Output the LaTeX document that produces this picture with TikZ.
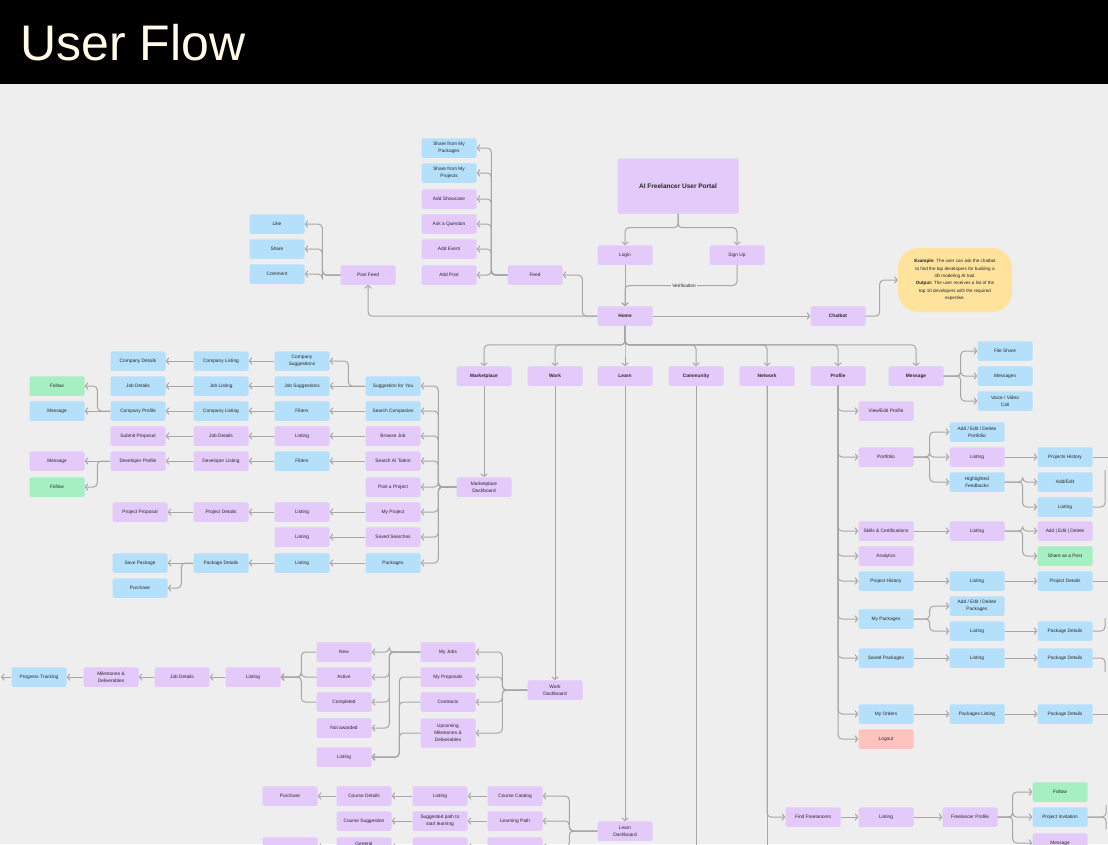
\documentclass[tikz,border=0pt]{standalone}
\usepackage{fontspec}
\setmainfont{Liberation Sans}
\usetikzlibrary{arrows.meta}
\usetikzlibrary{calc}
\definecolor{fondo}{HTML}{EEEEEE}
\definecolor{lila}{HTML}{E4C9FB}
\definecolor{celeste}{HTML}{B5E0FB}
\definecolor{verde}{HTML}{A5EFC2}
\definecolor{rosa}{HTML}{FFC3BF}
\definecolor{amarillo}{HTML}{FFE29C}
\definecolor{gris}{HTML}{A6A6A6}
\definecolor{crema}{HTML}{FFFBE8}
\begin{document}
\begin{tikzpicture}[x=1pt,y=-1pt,
    caja/.style={rectangle, rounded corners=1.5pt, minimum width=55pt, minimum height=19.5pt, inner sep=1pt, align=center, font=\fontsize{4.8}{7.2}\selectfont, text=black!85},
    lil/.style={caja, fill=lila},
    cel/.style={caja, fill=celeste},
    ver/.style={caja, fill=verde},
    ros/.style={caja, fill=rosa},
    neg/.style={font=\bfseries\fontsize{4.8}{7.2}\selectfont},
    flecha/.style={draw=gris, line width=1pt, rounded corners=4pt, -{Straight Barb[length=2.6pt,width=6.5pt]}},
    trazo/.style={draw=gris, line width=1pt, rounded corners=4pt},
]
    \clip (0,0) rectangle (1108,844);
    % Fondo y titulo
    \fill[black] (0,0) rectangle (1108,84);
    \fill[fondo] (0,84) rectangle (1108,844);
    \node[anchor=west, text=crema, font=\fontsize{50}{50}\selectfont] (titulo) at (17,43) {User Flow};

    % Portal
    \node[lil, minimum width=121pt, minimum height=55pt, font=\bfseries\fontsize{6.5}{8}\selectfont] (portal) at (678,186) {AI Freelancer User Portal};
    \node[lil] (login) at (625,255) {Login};
    \node[lil] (signup) at (737,255) {Sign Up};
    \node[lil, neg] (home) at (625,316) {Home};
    \node[lil, neg] (chatbot) at (838,316) {Chatbot};
    \node[fill=amarillo, rounded corners=20pt, minimum width=114pt, minimum height=64pt, align=center, font=\fontsize{4.6}{7.4}\selectfont, text=black!85, inner sep=2pt] (nota) at (955,280)
        {\textbf{Example:} The user can ask the chatbot\\ to find the top developers for building a\\ 3D modeling AI tool.\\ \textbf{Output:} The user receives a list of the\\ top 10 developers with the required\\ expertise.};
    \draw[flecha] (portal.south) -- ++(0,14) -| (login.north);
    \draw[flecha] (portal.south) -- ++(0,14) -| (signup.north);
    \coordinate (verif) at ($(login.south)!0.5!(home.north)$);
    \draw[flecha] (login.south) -- (home.north);
    \draw[flecha] (signup.south) |- (verif) -- (home.north);
    \node[fill=fondo, inner sep=1pt, font=\fontsize{4.8}{7}\selectfont, text=black!85] (lbver) at (684,285.5) {Verification};
    \draw[flecha] (home.east) -- (chatbot.west);
    \draw[flecha] (chatbot.east) -- ++(14,0) |- (nota.west);

    % Feed
    \node[lil] (feed) at (535,275) {Feed};
    \node[cel] (shpk) at (449,148) {Share from My\\Packages};
    \node[cel] (shpr) at (449,173) {Share from My\\Projects};
    \node[lil] (showc) at (449,199) {Add Showcase};
    \node[lil] (askq) at (449,224) {Ask a Question};
    \node[lil] (event) at (449,249) {Add Event};
    \node[lil] (addpost) at (449,275) {Add Post};
    \draw[flecha] (home.west) -- ++(-15,0) |- (feed.east);
    \foreach \n in {shpk,shpr,showc,askq,event,addpost}
        \draw[flecha] (feed.west) -- ++(-16,0) |- (\n.east);

    % Post Feed
    \node[lil] (postfeed) at (368,275) {Post Feed};
    \node[cel] (like) at (277,224) {Like};
    \node[cel] (share) at (277,249) {Share};
    \node[cel] (comment) at (277,274) {Comment};
    \draw[flecha] (home.west) -| (postfeed.south);
    \foreach \n in {like,share,comment}
        \draw[flecha] (postfeed.west) -- ++(-18,0) |- (\n.east);

    % Menu principal
    \foreach \n/\x/\t in {market/484/Marketplace, work/555/Work, learn/625/Learn, comm/696/Community, network/767/Network, profile/838/Profile, message/916/Message}{
        \node[lil, neg] (\n) at (\x,376) {\t};
        \draw[flecha] (home.south) -- ++(0,19) -| (\n.north);
    }

    % Message
    \node[cel] (fileshare) at (1005,351) {File Share};
    \node[cel] (messages) at (1005,376) {Messages};
    \node[cel] (voice) at (1005,401) {Voice / Video\\Call};
    \foreach \n in {fileshare,messages,voice}
        \draw[flecha] (message.east) -- ++(17,0) |- (\n.west);

    % Marketplace
    \node[lil] (mdash) at (484,487) {Marketplace\\Dashboard};
    \draw[flecha] (market) -- (mdash);
    \node[cel] (sfy) at (393,386) {Suggestion for You};
    \node[cel] (scomp) at (393,411) {Search Companies};
    \node[lil] (bjob) at (393,436) {Browse Job};
    \node[lil] (stal) at (393,461) {Search AI Talent};
    \node[lil] (pproj) at (393,487) {Post a Project};
    \node[lil] (myproj) at (393,512) {My Project};
    \node[lil] (ssearch) at (393,537) {Saved Searches};
    \node[cel] (pkgs) at (393,563) {Packages};
    \foreach \n in {sfy,scomp,bjob,stal,pproj,myproj,ssearch,pkgs}
        \draw[flecha] (mdash.west) -- ++(-18,0) |- (\n.east);

    \node[cel] (csug) at (302,361) {Company\\Suggestions};
    \node[cel] (jsug) at (302,386) {Job Suggestions};
    \node[cel] (filt1) at (302,411) {Filters};
    \node[lil] (blist) at (302,436) {Listing};
    \node[cel] (filt2) at (302,461) {Filters};
    \node[lil] (mplist) at (302,512) {Listing};
    \node[lil] (sslist) at (302,537) {Listing};
    \node[cel] (pklist) at (302,563) {Listing};

    \node[cel] (clist1) at (221,361) {Company Listing};
    \node[cel] (jlist) at (221,386) {Job Listing};
    \node[cel] (clist2) at (221,411) {Company Listing};
    \node[lil] (jdet1) at (221,436) {Job Details};
    \node[lil] (dlist) at (221,461) {Developer Listing};
    \node[lil] (pdet) at (221,512) {Project Details};
    \node[cel] (pkdet) at (221,563) {Package Details};

    \node[cel] (cdet) at (138,361) {Company Details};
    \node[cel] (jdet2) at (138,386) {Job Details};
    \node[cel] (cprof) at (138,411) {Company Profile};
    \node[lil] (subprop) at (138,436) {Submit Proposal};
    \node[lil] (dprof) at (138,461) {Developer Profile};
    \node[lil] (pprop) at (140,512) {Project Proposal};
    \node[cel] (savepk) at (140,563) {Save Package};
    \node[cel] (purch) at (140,588) {Purchase};

    \node[ver] (fol1) at (57,386) {Follow};
    \node[cel] (msg1) at (57,411) {Message};
    \node[lil] (msg2) at (57,461) {Message};
    \node[ver] (fol2) at (57,487) {Follow};

    \draw[flecha] (sfy.west) -- ++(-17,0) |- (csug.east);
    \draw[flecha] (sfy.west) -- (jsug.east);
    \foreach \a/\b in {scomp/filt1, bjob/blist, stal/filt2, myproj/mplist, ssearch/sslist, pkgs/pklist,
        csug/clist1, jsug/jlist, filt1/clist2, blist/jdet1, filt2/dlist, mplist/pdet, pklist/pkdet,
        clist1/cdet, jlist/jdet2, clist2/cprof, jdet1/subprop, dlist/dprof, pdet/pprop}
        \draw[flecha] (\a.west) -- (\b.east);
    \draw[flecha] (cprof.west) -- ++(-13,0) |- (fol1.east);
    \draw[flecha] (cprof.west) -- (msg1.east);
    \draw[flecha] (dprof.west) -- (msg2.east);
    \draw[flecha] (dprof.west) -- ++(-13,0) |- (fol2.east);
    \draw[flecha] (pkdet.west) -- (savepk.east);
    \draw[flecha] (pkdet.west) -- ++(-12,0) |- (purch.east);

    % Work
    \node[lil] (wdash) at (555,690) {Work\\Dashboard};
    \draw[flecha] (work) -- (wdash);
    \node[lil] (myjobs) at (448,652) {My Jobs};
    \node[lil] (myprops) at (448,677) {My Proposals};
    \node[lil] (contracts) at (448,702) {Contracts};
    \node[lil, minimum height=29pt] (upcoming) at (448,733) {Upcoming\\Milestones \&\\Deliverables};
    \foreach \n in {myjobs,myprops,contracts,upcoming}
        \draw[flecha] (wdash.west) -- ++(-25,0) |- (\n.east);
    \node[lil] (new) at (344,652) {New};
    \node[lil] (active) at (344,677) {Active};
    \node[lil] (completed) at (344,702) {Completed};
    \node[lil] (notaw) at (344,728) {Not awarded};
    \node[lil] (wlist) at (344,757) {Listing};
    \foreach \n in {new,active,completed,notaw}
        \draw[flecha] (myjobs.west) -- ++(-31,0) |- (\n.east);
    \foreach \n in {myprops,contracts,upcoming}
        \draw[flecha] (\n.west) -- ++(-21,0) |- (wlist.east);
    \node[lil] (wlist2) at (253,677) {Listing};
    \node[lil] (wjdet) at (182,677) {Job Details};
    \node[lil] (miles) at (111,677) {Milestones \&\\Deliverables};
    \node[cel] (progress) at (39,677) {Progress Tracking};
    \coordinate (progfin) at (1,677);
    \foreach \n in {new,active,completed}
        \draw[flecha] (\n.west) -- ++(-15,0) |- (wlist2.east);
    \draw[flecha] (wlist2) -- (wjdet);
    \draw[flecha] (wjdet) -- (miles);
    \draw[flecha] (miles) -- (progress);
    \draw[flecha] (progress.west) -- (progfin);

    % Learn
    \node[lil] (ldash) at (625,831) {Learn\\Dashboard};
    \draw[flecha] (learn) -- (ldash);
    \node[lil] (ccat) at (515,796) {Course Catalog};
    \node[lil] (lpath) at (515,821) {Learning Path};
    \node[lil] (lrow3a) at (515,847) {};
    \node[lil] (llist) at (440,796) {Listing};
    \node[lil] (spath) at (440,821) {Suggested path to\\start learning};
    \node[lil] (lrow3b) at (440,847) {};
    \node[lil] (cdetl) at (364,796) {Course Details};
    \node[lil] (csugl) at (364,821) {Course Suggestion};
    \node[lil] (gen) at (364,847) {General\\\phantom{x}};
    \node[lil] (purchl) at (290,796) {Purchase};
    \node[lil] (lrow3d) at (290,847) {};
    \foreach \n in {ccat,lpath,lrow3a}
        \draw[flecha] (ldash.west) -- ++(-28,0) |- (\n.east);
    \foreach \a/\b in {ccat/llist, llist/cdetl, cdetl/purchl, lpath/spath, spath/csugl, lrow3a/lrow3b, lrow3b/gen, gen/lrow3d}
        \draw[flecha] (\a.west) -- (\b.east);

    % Community
    \coordinate (comfin) at (696,850);
    \draw[trazo] (comm.south) -- (comfin);

    % Network
    \coordinate (netfin) at (767,850);
    \draw[trazo] (network.south) -- (netfin);
    \node[lil] (findfl) at (813,817) {Find Freelancers};
    \node[lil] (nlist) at (886,817) {Listing};
    \node[lil] (fprof) at (970,817) {Freelancer Profile};
    \node[ver] (nfol) at (1060,792) {Follow};
    \node[cel] (pinv) at (1060,817) {Project Invitation};
    \node[lil] (nmsg) at (1060,843) {Message};
    \draw[flecha] (network.south) |- (findfl.west);
    \draw[flecha] (findfl) -- (nlist);
    \draw[flecha] (nlist) -- (fprof);
    \foreach \n in {nfol,pinv,nmsg}
        \draw[flecha] (fprof.east) -- ++(15,0) |- (\n.west);
    \coordinate (pinvA) at (1106,805);
    \coordinate (pinvB) at (1106,829);
    \draw[trazo] (pinv.east) -| (pinvA);
    \draw[trazo] (pinv.east) -| (pinvB);

    % Profile
    \node[lil] (vep) at (886,411) {View/Edit Profile};
    \node[lil] (portf) at (886,457) {Portfolio};
    \node[lil] (skills) at (886,531) {Skills \& Certifications};
    \node[lil] (analyt) at (886,556) {Analytics};
    \node[cel] (phist) at (886,581) {Project History};
    \node[cel] (mypk) at (886,619) {My Packages};
    \node[cel] (savpk) at (886,658) {Saved Packages};
    \node[cel] (myord) at (886,714) {My Orders};
    \node[ros] (logout) at (886,739) {Logout};
    \foreach \n in {vep,portf,skills,analyt,phist,mypk,savpk,myord,logout}
        \draw[flecha] (profile.south) |- (\n.west);

    \node[cel] (aedport) at (977,432) {Add / Edit / Delete\\Portfolio};
    \node[lil] (plist) at (977,457) {Listing};
    \node[cel] (hfeed) at (977,482) {Highlighted\\Feedbacks};
    \node[lil] (sklist) at (977,531) {Listing};
    \node[cel] (phlist) at (977,581) {Listing};
    \node[cel] (aedpk) at (977,606) {Add / Edit / Delete\\Packages};
    \node[cel] (mplist2) at (977,631) {Listing};
    \node[cel] (splist) at (977,658) {Listing};
    \node[cel] (pklisting) at (977,714) {Packages Listing};

    \node[cel] (projhist) at (1065,457) {Projects History};
    \node[cel] (addedit) at (1065,482) {Add/Edit};
    \node[cel] (hflist) at (1065,507) {Listing};
    \node[lil] (aed) at (1065,531) {Add | Edit | Delete};
    \node[ver] (shpost) at (1065,556) {Share as a Post};
    \node[cel] (projdet) at (1065,581) {Project Details};
    \node[cel] (pkd1) at (1065,631) {Package Details};
    \node[cel] (pkd2) at (1065,658) {Package Details};
    \node[cel] (pkd3) at (1065,714) {Package Details};

    \foreach \n in {aedport,plist,hfeed}
        \draw[flecha] (portf.east) -- ++(16,0) |- (\n.west);
    \foreach \n in {aedpk,mplist2}
        \draw[flecha] (mypk.east) -- ++(16,0) |- (\n.west);
    \foreach \n in {addedit,hflist}
        \draw[flecha] (hfeed.east) -- ++(18,0) |- (\n.west);
    \foreach \n in {aed,shpost}
        \draw[flecha] (sklist.east) -- ++(18,0) |- (\n.west);
    \foreach \a/\b in {plist/projhist, skills/sklist, phist/phlist, phlist/projdet, mplist2/pkd1, savpk/splist, splist/pkd2, myord/pklisting, pklisting/pkd3}
        \draw[flecha] (\a.east) -- (\b.west);

    % Salidas a la derecha
    \coordinate (fin1) at (1112,457);
    \coordinate (fin2) at (1105,470);
    \coordinate (fin3) at (1112,581);
    \coordinate (fin4) at (1105,618);
    \coordinate (fin5) at (1105,672);
    \coordinate (fin6) at (1112,714);
    \draw[trazo] (projhist.east) -- (fin1);
    \draw[trazo] (hflist.east) -| (fin2);
    \draw[trazo] (projdet.east) -- (fin3);
    \draw[trazo] (pkd1.east) -| (fin4);
    \draw[trazo] (pkd2.east) -| (fin5);
    \draw[trazo] (pkd3.east) -- (fin6);
\end{tikzpicture}
\end{document}
